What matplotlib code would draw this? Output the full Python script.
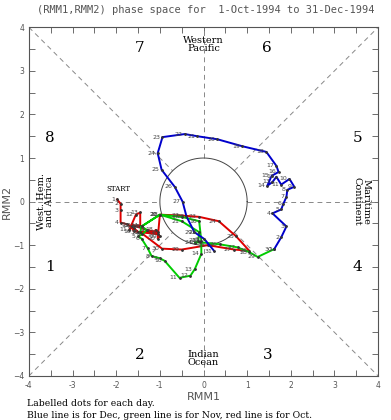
import matplotlib.pyplot as plt
import numpy as np

# RMM1 / RMM2 per day
octX = [-1.98, -1.9, -1.9, -1.9, -1.75, -1.6, -1.5, -1.05, -1.3, -1.6, -1.7, -1.55, -1.45, -1.45,
        -1.65, -1.6, -1.05, -1.1, -1.0, -1.05, -1.0, -0.5, -0.1, 0.35, 0.75, 1.05, 0.7, 0.1,
        -0.5, -0.95, -1.45]
octY = [0.05, -0.05, -0.2, -0.48, -0.52, -0.6, -0.7, -0.7, -0.65, -0.55, -0.65, -0.3, -0.25, -0.55,
        -0.55, -0.68, -0.75, -0.65, -0.8, -0.85, -0.3, -0.32, -0.35, -0.45, -0.8, -1.13, -1.1, -1.0,
        -1.1, -1.08, -0.7]

novX = [-1.45, -1.42, -1.3, -1.4, -1.5, -1.42, -1.28, -1.19, -1.0, -0.89, -0.55, -0.3, -0.2,
        -0.05, -0.05, -0.1, -0.5, -1.0, -1.42, -1.0, -0.5, -0.1, -0.12, -0.2, -0.09, 0.37, 0.78,
        1.05, 1.24, 1.62]
novY = [-0.7, -0.57, -0.65, -0.75, -0.8, -0.85, -1.07, -1.25, -1.3, -1.36, -1.75, -1.7, -1.55,
        -1.2, -0.9, -0.45, -0.35, -0.3, -0.57, -0.3, -0.45, -0.7, -0.9, -0.95, -0.93, -0.98, -1.05,
        -1.16, -1.27, -1.09]

decX = [1.62, 1.78, 1.9, 1.58, 1.78, 1.83, 1.9, 1.92, 2.08, 1.97, 1.78, 1.67, 1.58, 1.46, 1.56,
        1.72, 1.67, 1.44, 0.89, 0.32, -0.14, -0.43, -0.94, -1.05, -0.96, -0.66, -0.48, -0.39,
        -0.21, 0.02, 0.25]
decY = [-1.09, -0.82, -0.57, -0.27, -0.18, -0.05, 0.11, 0.27, 0.34, 0.52, 0.39, 0.57, 0.45, 0.36,
        0.59, 0.68, 0.82, 1.14, 1.27, 1.43, 1.5, 1.55, 1.48, 1.11, 0.73, 0.34, 0.0, -0.34, -0.7,
        -0.86, -1.14]

phaseNums = ["1", "2", "3", "4", "5", "6", "7", "8"]
phaseXs = [-3.52, -1.46, 1.46, 3.52, 3.52, 1.46, -1.46, -3.52]
phaseYs = [-1.5, -3.52, -3.52, -1.5, 1.45, 3.52, 3.52, 1.45]

gray = "#555555"
fig = plt.figure(figsize=(3.91, 4.2), dpi=100)
ax = fig.add_axes([0.074, 0.105, 0.893, 0.83])
ax.set_xlim(-4, 4)
ax.set_ylim(-4, 4)

# guide lines: diagonals and axes outside the unit circle
dash = dict(color="#888888", lw=0.7, ls=(0, (5, 4)))
ax.plot([-4, -0.707], [-4, -0.707], **dash)
ax.plot([0.707, 4], [0.707, 4], **dash)
ax.plot([-4, -0.707], [4, 0.707], **dash)
ax.plot([0.707, 4], [-0.707, -4], **dash)
ax.plot([-4, -1], [0, 0], **dash)
ax.plot([1, 4], [0, 0], **dash)
ax.plot([0, 0], [-4, -1], **dash)
ax.plot([0, 0], [1, 4], **dash)
t = np.linspace(0, 2 * np.pi, 200)
ax.plot(np.cos(t), np.sin(t), color="#444444", lw=0.7)

for xs, ys, c in [(octX, octY, "#dd0000"), (novX, novY, "#00cc00"), (decX, decY, "#0000cc")]:
    ax.plot(xs, ys, color=c, lw=1.4)
    ax.plot(xs, ys, '.', color="#333333", ms=2)
    for i in range(len(xs)):
        ax.text(xs[i] - 0.05, ys[i], str(i + 1), fontsize=4.5, color="#444444",
                ha="right", va="center")
ax.text(octX[0] - 0.25, octY[0] + 0.15, "START", fontsize=5, family="serif", va="bottom")

for i in range(8):
    ax.text(phaseXs[i], phaseYs[i], phaseNums[i], fontsize=11, family="serif",
            ha="center", va="center")
serif = dict(family="serif", fontsize=7, ha="center", va="center", linespacing=0.9)
ax.text(0, 3.6, "Western\nPacific", **serif)
ax.text(0, -3.6, "Indian\nOcean", **serif)
ax.text(-3.62, 0, "West. Hem.\nand Africa", rotation=90, **serif)
ax.text(3.62, 0, "Maritime\nContinent", rotation=-90, **serif)

ax.set_xticks(range(-4, 5))
ax.set_yticks(range(-4, 5))
ax.set_xticks(np.arange(-4, 4.5, 0.5), minor=True)
ax.set_yticks(np.arange(-4, 4.5, 0.5), minor=True)
ax.set_xticklabels(["-4", "-3", "-2", "-1", "0", "1", "2", "3", "4"])
ax.tick_params(which="both", direction="in", top=True, right=True, color=gray,
               labelsize=5.5, labelcolor=gray, length=4, width=0.6)
ax.tick_params(which="minor", length=4)
ax.tick_params(axis="x", pad=4)
for s in ax.spines.values():
    s.set_color(gray)
    s.set_linewidth(0.8)
ax.set_xlabel("RMM1", fontsize=8, color=gray, labelpad=1)
ax.set_ylabel("RMM2", fontsize=8, color=gray, labelpad=1)

fig.text(0.525, 0.988, "(RMM1,RMM2) phase space for  1-Oct-1994 to 31-Dec-1994",
         ha="center", va="top", fontsize=7.5, family="DejaVu Sans Mono", color=gray)
fig.text(0.069, 0.033, "Labelled dots for each day.", fontsize=6.7, family="serif")
fig.text(0.069, 0.004, "Blue line is for Dec, green line is for Nov, red line is for Oct.",
         fontsize=6.7, family="serif")

fig.savefig("out.png", dpi=100)
